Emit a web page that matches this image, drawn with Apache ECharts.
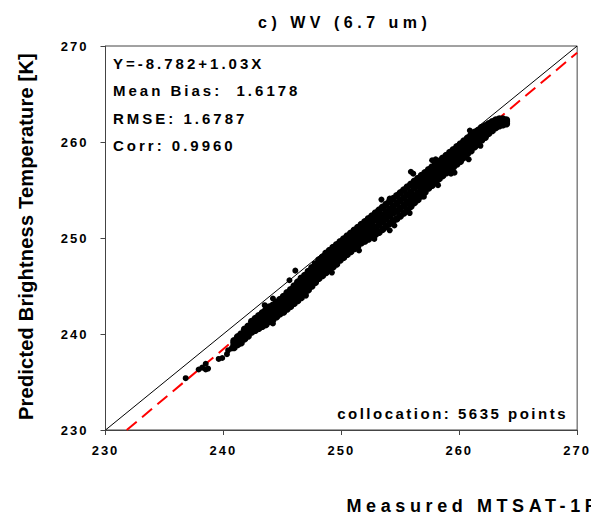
<!DOCTYPE html>
<html><head><meta charset="utf-8">
<script src="https://cdn.jsdelivr.net/npm/echarts@6/dist/echarts.min.js"></script>
<style>
html,body{margin:0;padding:0;background:#fff;}
#chart{width:591px;height:519px;}
#chart text{white-space:pre;}
#chart text[style*="16px"]{letter-spacing:4.5px;}
#chart text[style*="15px"]{letter-spacing:3px;}
#chart text[style*="15px"][text-anchor="end"]{letter-spacing:2.5px;}
#chart text[style*="13px"]{letter-spacing:2px;}
#chart text[style*="18px"]{letter-spacing:4.6px;}
#chart text[style*="20px"]{letter-spacing:0.2px;}
</style></head><body><div id="chart"></div>
<script>
// ---- data ----
const titleText = 'c) WV (6.7 um)';
const xAxisName = 'Measured MTSAT-1R';
const yAxisName = 'Predicted Brightness Temperature [K]';
const tickValues = [230, 240, 250, 260, 270];
const statLines = ['Y=-8.782+1.03X', 'Mean Bias:  1.6178', 'RMSE: 1.6787', 'Corr: 0.9960'];
const collocationText = 'collocation: 5635 points';

// dense band of collocated points: [measured, predicted values...]
const bandColumns = [
[240.9,238.6,238.8,239.1,239.3],
[241.2,238.9,239.2,239.4,239.7],
[241.5,239.1,239.4,239.7,240.0],
[241.8,239.5,239.8,240.2,240.5],
[242.1,239.8,240.1,240.5,240.8],
[242.4,240.2,240.5,241.0,241.3],
[242.7,240.4,240.8,241.2,241.6],
[243.0,240.6,241.0,241.5,241.9],
[243.3,240.8,241.3,241.7,242.2],
[243.6,241.0,241.5,242.0,242.5],
[243.9,241.3,241.8,242.3,242.8],
[244.2,241.5,242.0,242.5,243.0],
[244.5,241.8,242.3,242.8,243.3],
[244.8,242.1,242.6,243.1,243.6],
[245.1,242.3,242.8,243.4,243.9],
[245.4,242.6,243.2,243.7,244.3],
[245.7,242.9,243.5,244.0,244.6],
[246.0,243.2,243.8,244.4,245.0],
[246.3,243.5,244.1,244.8,245.4],
[246.6,243.8,244.5,245.1,245.8],
[246.9,244.2,244.8,245.5,246.1],
[247.2,244.6,245.2,245.9,246.5],
[247.5,245.0,245.6,246.3,246.9],
[247.8,245.4,246.0,246.7,247.3],
[248.1,245.8,246.4,247.1,247.7],
[248.4,246.1,246.7,247.4,248.0],
[248.7,246.4,247.1,247.7,248.4],
[249.0,246.7,247.4,248.0,248.7],
[249.3,247.0,247.7,248.3,249.0],
[249.6,247.3,248.0,248.6,249.3],
[249.9,247.7,248.3,249.0,249.6],
[250.2,248.0,248.6,249.3,249.9],
[250.5,248.3,248.9,249.6,250.2],
[250.8,248.6,249.2,249.9,250.5],
[251.1,248.9,249.5,250.2,250.8],
[251.4,249.2,249.8,250.5,251.1],
[251.7,249.5,250.1,250.8,251.4],
[252.0,249.7,250.4,251.0,251.7],
[252.3,249.9,250.6,251.3,252.0],
[252.6,250.2,250.9,251.6,252.3],
[252.9,250.4,251.1,251.9,252.6],
[253.2,250.6,251.4,252.1,252.9],
[253.5,250.9,251.7,252.4,253.2],
[253.8,251.2,252.0,252.7,253.5],
[254.1,251.5,252.3,253.0,253.8],
[254.4,251.8,252.6,253.3,254.1],
[254.7,252.0,252.8,253.6,254.4],
[255.0,252.3,253.1,253.9,254.7],
[255.3,252.6,253.4,254.2,255.0],
[255.6,252.9,253.7,254.5,255.3],
[255.9,253.3,254.1,254.8,255.6],
[256.2,253.7,254.4,255.2,255.9],
[256.5,254.0,254.7,255.5,256.2],
[256.8,254.4,255.1,255.8,256.5],
[257.1,254.8,255.5,256.1,256.8],
[257.4,255.2,255.8,256.5,257.1],
[257.7,255.5,256.1,256.8,257.4],
[258.0,255.8,256.4,257.1,257.7],
[258.3,256.2,256.8,257.4,258.0],
[258.6,256.5,257.1,257.7,258.3],
[258.9,256.8,257.4,258.0,258.6],
[259.2,257.1,257.7,258.3,258.9],
[259.5,257.4,258.0,258.6,259.2],
[259.8,257.7,258.3,258.9,259.5],
[260.1,258.0,258.6,259.2,259.8],
[260.4,258.4,259.0,259.5,260.1],
[260.7,258.8,259.3,259.9,260.4],
[261.0,259.1,259.6,260.2,260.7],
[261.3,259.5,260.0,260.5,261.0],
[261.6,259.8,260.3,260.7,261.2],
[261.9,260.2,260.6,261.1,261.5],
[262.2,260.5,260.9,261.3,261.7],
[262.5,260.9,261.2,261.6,261.9],
[262.8,261.2,261.5,261.8,262.1],
[263.1,261.5,261.8,262.0,262.3],
[263.4,261.7,261.9,262.2,262.4],
[263.7,261.8,262.0,262.2,262.4],
[264.0,261.9,262.1,262.3]
];
// isolated points and edge bumps
const outliers = [
[236.8,235.4],[237.9,236.3],[238.2,236.5],[238.5,236.9],[238.5,236.3],[238.7,236.4],
[239.6,237.4],[239.9,237.5],[240.3,237.9],[240.4,238.3],[240.7,238.5],
[243.5,243.0],[244.2,243.7],[244.2,241.1],[245.6,245.6],[246.1,246.6],
[247.0,244.0],[249.2,246.4],[251.5,248.7],[252.8,249.9],[253.4,254.0],[254.1,254.1],
[254.1,250.8],[254.5,251.3],[255.8,252.6],[255.9,256.9],[256.1,256.7],[257.0,254.3],
[257.7,258.1],[258.0,258.2],[258.2,255.5],[259.3,256.7],[259.6,256.8],[260.8,258.2],
[260.9,261.2],[261.8,259.6]
];
const identityLine = [[230, 230], [270, 270]];
const regressionLine = [[231.8, 230], [270, 269.3]];

// ---- chart ----
const bandPoints = bandColumns.flatMap(r => r.slice(1).map(y => [r[0], y]));
const FONT = '"Liberation Sans", Arial, sans-serif';
const chart = echarts.init(document.getElementById('chart'), null, {renderer: 'svg', width: 591, height: 519});
const axisCommon = {
  type: 'value', min: tickValues[0], max: tickValues[tickValues.length - 1], interval: 10,
  splitLine: {show: false},
  axisLine: {show: true, onZero: false, lineStyle: {color: '#444', width: 1}},
  axisTick: {show: true, inside: false, length: 5, lineStyle: {color: '#444'}},
};
chart.setOption({
  animation: false,
  backgroundColor: '#fff',
  grid: {left: 105.5, right: 7.5, top: 46, bottom: 89, show: true, borderColor: '#444', borderWidth: 1, backgroundColor: 'transparent'},
  xAxis: Object.assign({}, axisCommon, {
    axisLabel: {margin: 14, color: '#000', fontSize: 13, fontWeight: 'bold', fontFamily: FONT, formatter: v => String(v)}
  }),
  yAxis: Object.assign({}, axisCommon, {
    axisLabel: {margin: 17, color: '#000', fontSize: 13, fontWeight: 'bold', fontFamily: FONT, formatter: v => String(v)}
  }),
  series: [
    {type: 'line', data: identityLine, symbol: 'none', silent: true, z: 1,
     lineStyle: {color: '#000', width: 1}},
    {type: 'line', data: regressionLine, symbol: 'none', silent: true, z: 1,
     lineStyle: {color: '#ff0000', width: 2, type: [13, 7]}},
    {type: 'scatter', data: bandPoints, symbol: 'circle', symbolSize: 7.5, silent: true, z: 5,
     itemStyle: {color: '#000', opacity: 1}},
    {type: 'scatter', data: outliers, symbol: 'circle', symbolSize: 6, silent: true, z: 5,
     itemStyle: {color: '#000', opacity: 1}}
  ],
  graphic: [
    {type: 'text', x: 344.7, y: 22, style: {text: titleText, font: 'bold 16px ' + FONT, fill: '#000', align: 'center', verticalAlign: 'middle'}},
    {type: 'text', x: 25.5, y: 236.5, rotation: Math.PI / 2, style: {text: yAxisName, font: 'bold 20px ' + FONT, fill: '#000', align: 'center', verticalAlign: 'middle'}},
    {type: 'text', x: 346.5, y: 506, style: {text: xAxisName, font: 'bold 18px ' + FONT, fill: '#000', align: 'left', verticalAlign: 'middle'}},
    {type: 'text', x: 113, y: 63, style: {text: statLines[0], font: 'bold 15px ' + FONT, fill: '#000', align: 'left', verticalAlign: 'middle'}},
    {type: 'text', x: 113, y: 90.5, style: {text: statLines[1], font: 'bold 15px ' + FONT, fill: '#000', align: 'left', verticalAlign: 'middle'}},
    {type: 'text', x: 113, y: 118, style: {text: statLines[2], font: 'bold 15px ' + FONT, fill: '#000', align: 'left', verticalAlign: 'middle'}},
    {type: 'text', x: 113, y: 145.5, style: {text: statLines[3], font: 'bold 15px ' + FONT, fill: '#000', align: 'left', verticalAlign: 'middle'}},
    {type: 'text', x: 568, y: 413, style: {text: collocationText, font: 'bold 15px ' + FONT, fill: '#000', align: 'right', verticalAlign: 'middle'}}
  ]
});
</script></body></html>
